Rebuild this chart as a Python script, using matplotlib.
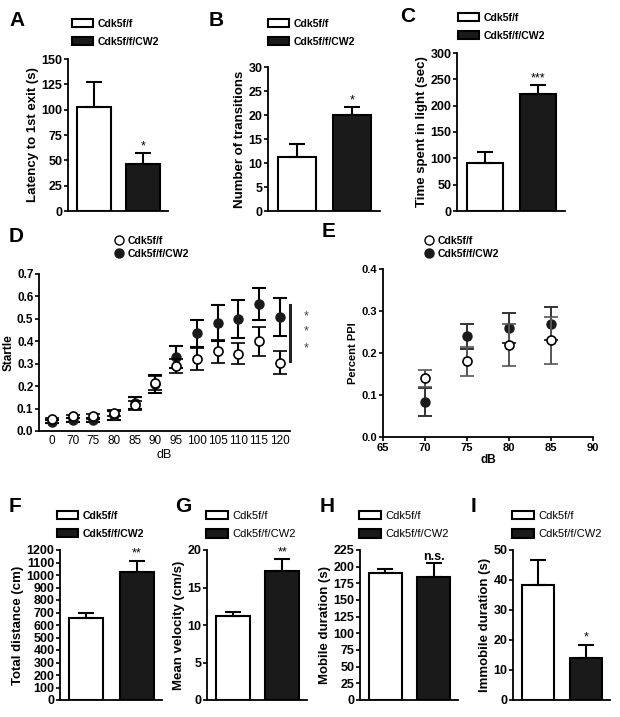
import numpy as np
import matplotlib
matplotlib.use("Agg")
import matplotlib.pyplot as plt
from matplotlib.lines import Line2D

plt.rcParams["font.family"] = ["Liberation Sans", "DejaVu Sans"]
plt.rcParams["font.weight"] = "bold"
plt.rcParams["axes.labelweight"] = "bold"

W, H = 620, 717
groups = ["Cdk5f/f", "Cdk5f/f/CW2"]

# ---- bar panels: mean, sem, significance ----
a_mean = [103, 46];   a_err = [24, 11];   a_sig = "*"
b_mean = [11.3, 20.1]; b_err = [2.6, 1.6]; b_sig = "*"
c_mean = [91, 222];   c_err = [21, 17];   c_sig = "***"
f_mean = [660, 1025]; f_err = [35, 90];   f_sig = "**"
g_mean = [11.2, 17.2]; g_err = [0.5, 1.6]; g_sig = "**"
h_mean = [190, 185];  h_err = [6, 20];    h_sig = "n.s."
i_mean = [38.5, 14];  i_err = [8.3, 4.5]; i_sig = "*"

# ---- startle (D) ----
d_db = ["0", "70", "75", "80", "85", "90", "95", "100", "105", "110", "115", "120"]
d_wt = [0.055, 0.065, 0.065, 0.08, 0.115, 0.215, 0.29, 0.32, 0.355, 0.345, 0.40, 0.305]
d_wt_err = [0.005, 0.006, 0.01, 0.015, 0.02, 0.03, 0.03, 0.05, 0.05, 0.047, 0.065, 0.05]
d_ko = [0.042, 0.048, 0.05, 0.07, 0.125, 0.21, 0.33, 0.435, 0.48, 0.50, 0.565, 0.51]
d_ko_err = [0.005, 0.008, 0.01, 0.02, 0.025, 0.04, 0.05, 0.06, 0.08, 0.085, 0.072, 0.085]

# ---- PPI (E) ----
e_db = [70, 75, 80, 85]
e_wt = [0.14, 0.18, 0.22, 0.23]
e_wt_err = [0.02, 0.035, 0.05, 0.055]
e_ko = [0.083, 0.24, 0.26, 0.27]
e_ko_err = [0.033, 0.03, 0.035, 0.04]


def add_ax(x0, y0, x1, y1):
    return fig.add_axes([x0 / W, 1 - y1 / H, (x1 - x0) / W, (y1 - y0) / H])


def style(ax):
    for s in ["top", "right"]:
        ax.spines[s].set_visible(False)
    for s in ["left", "bottom"]:
        ax.spines[s].set_linewidth(1.3)
    ax.tick_params(axis="y", direction="out", length=3, width=1.2, labelsize=9, pad=1)
    ax.tick_params(axis="x", labelsize=9)


def bar_panel(box, means, errs, sig, ylim, step, ylabel, leg_xy, letter, letter_xy,
              leg_weight="bold"):
    ax = add_ax(*box)
    style(ax)
    x = np.arange(2)
    bars = ax.bar(x, means, width=0.68, color=["white", "#1a1a1a"],
                  edgecolor="black", linewidth=1.5)
    ax.errorbar(x, means, yerr=[[0, 0], errs], fmt="none", ecolor="black",
                elinewidth=1.5, capsize=6, capthick=1.5, zorder=1)
    ax.set_xlim(-0.52, 1.5)
    ax.set_ylim(0, ylim)
    ax.set_yticks(np.arange(0, ylim + step / 2, step))
    ax.set_xticks([])
    ax.set_ylabel(ylabel, fontsize=9.5, labelpad=2)
    top = means[1] + errs[1]
    ax.text(1, top + ylim * 0.005, sig, ha="center", va="bottom",
            fontsize=9, fontweight="normal" if sig != "n.s." else "bold")
    if leg_weight == "bold":
        prop = {"size": 7.6, "weight": "bold"}
    else:
        prop = {"size": 8, "weight": "normal"}
    ax.legend(bars, groups, loc="upper left",
              bbox_to_anchor=(leg_xy[0] / W, 1 - leg_xy[1] / H),
              bbox_transform=fig.transFigure, frameon=False, borderpad=0,
              borderaxespad=0, handlelength=2.0, handleheight=0.75,
              handletextpad=0.4, labelspacing=0.75, prop=prop)
    fig.text(letter_xy[0] / W, 1 - letter_xy[1] / H, letter, fontsize=15,
             fontweight="bold", ha="left", va="center")
    return ax


fig = plt.figure(figsize=(W / 100, H / 100), dpi=100)

bar_panel((68, 59, 168, 211), a_mean, a_err, a_sig, 150, 25,
          "Latency to 1st exit (s)", (72, 19), "A", (9, 20))
bar_panel((268, 67, 380, 211), b_mean, b_err, b_sig, 30, 5,
          "Number of transitions", (268, 19), "B", (209, 20))
bar_panel((457, 53, 565, 211), c_mean, c_err, c_sig, 300, 50,
          "Time spent in light (sec)", (458, 13), "C", (400, 17))
bar_panel((60, 550, 162, 700), f_mean, f_err, f_sig, 1200, 100,
          "Total distance (cm)", (57, 511), "F", (9, 507))
bar_panel((207, 550, 307, 700), g_mean, g_err, g_sig, 20, 5,
          "Mean velocity (cm/s)", (206, 511), "G", (175, 507), "normal")
bar_panel((360, 550, 458, 700), h_mean, h_err, h_sig, 225, 25,
          "Mobile duration (s)", (359, 511), "H", (320, 507), "normal")
bar_panel((513, 550, 610, 700), i_mean, i_err, i_sig, 50, 10,
          "Immobile duration (s)", (512, 511), "I", (471, 507), "normal")

# ---- D: startle ----
ax = add_ax(39, 274, 290, 431)
style(ax)
xd = np.arange(len(d_db))
ax.errorbar(xd, d_wt, yerr=d_wt_err, fmt="o", mfc="white", mec="black", mew=1.2,
            ms=6.5, ecolor="black", elinewidth=1.5, capsize=5, capthick=1.5, zorder=3)
ax.errorbar(xd, d_ko, yerr=d_ko_err, fmt="o", mfc="#1a1a1a", mec="#1a1a1a",
            ms=6.5, ecolor="black", elinewidth=1.5, capsize=5, capthick=1.5, zorder=2)
ax.set_xlim(-0.63, 11.5)
ax.set_ylim(0, 0.7)
ax.set_yticks(np.arange(0, 0.71, 0.1))
ax.set_yticklabels([f"{v:.1f}" for v in np.arange(0, 0.71, 0.1)])
ax.set_xticks(xd)
ax.set_xticklabels(d_db, fontweight="normal", fontsize=8.5)
ax.tick_params(axis="x", length=0, pad=3)
ax.tick_params(axis="y", labelsize=8.5)
ax.set_ylabel("Startle", fontsize=8.5, labelpad=2)
ax.set_xlabel("dB", fontsize=9, fontweight="normal", labelpad=1)
ax.plot([11.5, 11.5], [0.31, 0.56], color="#222222", lw=2.2, clip_on=False)
for yy in [0.513, 0.443, 0.369]:
    ax.text(12.3, yy, "*", ha="center", va="center", fontsize=9,
            fontweight="normal", color="#444444")
hd = [Line2D([], [], marker="o", ls="none", mfc="white", mec="black", ms=6.5),
      Line2D([], [], marker="o", ls="none", mfc="#1a1a1a", mec="#1a1a1a", ms=6.5)]
ax.legend(hd, groups, loc="upper left", bbox_to_anchor=(114 / W, 1 - 236 / H),
          bbox_transform=fig.transFigure, frameon=False, borderpad=0,
          borderaxespad=0, handlelength=1.0, handletextpad=0.3,
          labelspacing=0.25, prop={"size": 7.6, "weight": "bold"})
fig.text(9 / W, 1 - 236 / H, "D", fontsize=15, fontweight="bold", va="center")

# ---- E: PPI ----
ax = add_ax(383, 269, 593, 437)
style(ax)
ax.errorbar(e_db, e_wt, yerr=e_wt_err, fmt="o", mfc="white", mec="black", mew=1.2,
            ms=6.5, ecolor="#555555", elinewidth=1.4, capsize=5, capthick=1.4, zorder=3)
ax.errorbar(e_db, e_ko, yerr=e_ko_err, fmt="o", mfc="#1a1a1a", mec="#1a1a1a",
            ms=6.5, ecolor="#333333", elinewidth=1.4, capsize=5, capthick=1.4, zorder=2)
ax.set_xlim(65, 90)
ax.set_ylim(0, 0.4)
ax.set_xticks(np.arange(65, 91, 5))
ax.set_yticks(np.arange(0, 0.41, 0.1))
ax.set_yticklabels([f"{v:.1f}" for v in np.arange(0, 0.41, 0.1)])
ax.tick_params(axis="x", direction="out", length=3, width=1.2, pad=1)
ax.tick_params(labelsize=8)
ax.set_ylabel("Percent PPI", fontsize=8, labelpad=3)
ax.set_xlabel("dB", fontsize=8.5, labelpad=1)
ax.legend(hd, groups, loc="upper left", bbox_to_anchor=(424 / W, 1 - 236 / H),
          bbox_transform=fig.transFigure, frameon=False, borderpad=0,
          borderaxespad=0, handlelength=1.0, handletextpad=0.3,
          labelspacing=0.25, prop={"size": 7.6, "weight": "bold"})
fig.text(322 / W, 1 - 232 / H, "E", fontsize=15, fontweight="bold", va="center")

fig.savefig("out.png", dpi=100, facecolor="white")
